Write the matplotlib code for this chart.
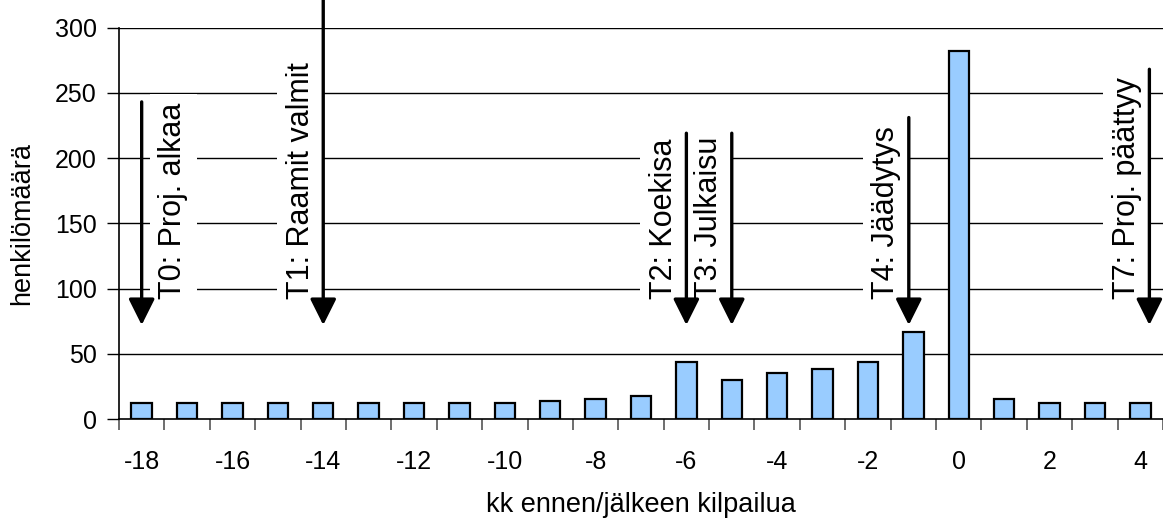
import matplotlib
matplotlib.use('Agg')
import matplotlib.pyplot as plt
import numpy as np

plt.rcParams['font.family'] = ['Liberation Sans', 'DejaVu Sans']
plt.rcParams['axes.unicode_minus'] = False

# Data
months = list(range(-18, 5))
counts = [12, 12, 12, 12, 12, 12, 12, 12, 12, 14, 15, 18,
          44, 30, 35, 38, 44, 67, 282, 15, 12, 12, 12]

# Milestones (arrows)
milestone_labels = ['T0: Proj. alkaa', 'T1: Raamit valmit', 'T2: Koekisa',
                    'T3: Julkaisu', 'T4: Jäädytys', 'T7: Proj. päättyy']
milestone_x = [-18, -14, -6, -5, -1.1, 4.2]
milestone_top = [243, 322, 219, 219, 231, 268]
arrow_tip = 72

fig = plt.figure(figsize=(11.63, 5.18), dpi=100)
ax = fig.add_axes([0.1023, 0.1911, 0.8977, 0.7558])

# gridlines
for y in range(50, 301, 50):
    ax.axhline(y, color='black', lw=1, zorder=1)

ax.bar(months, counts, width=0.45, color='#99CCFF', edgecolor='black',
       linewidth=1.6, zorder=2)

for lab, x, top in zip(milestone_labels, milestone_x, milestone_top):
    if lab.startswith('T0'):
        tx = x + 0.7
    else:
        tx = x - 0.5
    ax.text(tx, 92, lab, rotation=90, ha='center', va='bottom', fontsize=22,
            zorder=3, bbox=dict(facecolor='white', edgecolor='none', pad=6))
    ax.annotate('', xy=(x, arrow_tip), xytext=(x, top),
                arrowprops=dict(arrowstyle='-|>,head_length=0.4,head_width=0.2',
                                color='black', lw=2.4, mutation_scale=40,
                                shrinkA=0, shrinkB=0),
                annotation_clip=False, zorder=4)

ax.set_xlim(-18.5, 4.45)
ax.set_ylim(0, 300)
ax.set_yticks(range(0, 301, 50))
ax.set_xticks(range(-18, 5, 2))
ax.set_xticks(np.arange(-18.5, 4.6, 1), minor=True)
ax.tick_params(axis='x', which='major', length=0, pad=22, labelsize=18)
ax.tick_params(axis='x', which='minor', length=8, color='#555555', width=1.2)
ax.tick_params(axis='y', length=9, width=1, labelsize=18, pad=7)

for s in ['top', 'right']:
    ax.spines[s].set_visible(False)
ax.spines['left'].set_linewidth(1.2)
ax.spines['bottom'].set_linewidth(1.2)
ax.spines['left'].set_zorder(5)

ax.set_xlabel('kk ennen/jälkeen kilpailua', fontsize=19.5, labelpad=13.5)
ax.set_ylabel('henkilömäärä', fontsize=19.5, labelpad=14)

fig.savefig('out.png', dpi=100)
